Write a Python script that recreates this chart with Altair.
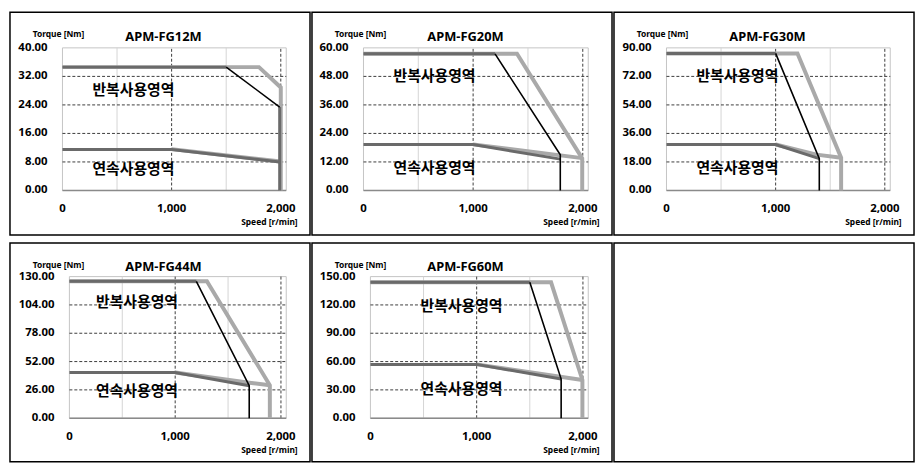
import altair as alt
import pandas as pd

# ---------------- data ----------------
MODELS = ["APM-FG12M", "APM-FG20M", "APM-FG30M", "APM-FG44M", "APM-FG60M"]
Y_MAX = [40, 60, 90, 130, 150]
Y_STEP = [8, 12, 18, 26, 30]
X_MAX = 2050
X_TICKS = [0, 1000, 2000]
X_GRID_SOLID = [500, 1500]
X_GRID_DASHED = [1000, 2000]

# Repetitive-duty envelope, outer (light grey)
REP_LIGHT = {
    "APM-FG12M": [(0, 34.6), (1800, 34.6), (2000, 28.9), (2000, 0)],
    "APM-FG20M": [(0, 57.5), (1400, 57.5), (1995, 13.5), (1995, 0)],
    "APM-FG30M": [(0, 86.5), (1200, 86.5), (1600, 20.7), (1600, 0)],
    "APM-FG44M": [(0, 125.7), (1300, 125.7), (1895, 30.3), (1895, 0)],
    "APM-FG60M": [(0, 144), (1700, 144), (1995, 40.5), (1995, 0)],
}
# Repetitive-duty envelope, inner: flat part (dark grey)
REP_DARK = {
    "APM-FG12M": [(0, 34.6), (1500, 34.6)],
    "APM-FG20M": [(0, 57.5), (1200, 57.5)],
    "APM-FG30M": [(0, 86.5), (1000, 86.5)],
    "APM-FG44M": [(0, 125.7), (1200, 125.7)],
    "APM-FG60M": [(0, 144), (1500, 144)],
}
# Repetitive-duty envelope, inner: falling part (black)
REP_BLACK = {
    "APM-FG12M": [(1500, 34.6), (1990, 23.4)],
    "APM-FG20M": [(1200, 57.5), (1795, 15.0), (1795, 0)],
    "APM-FG30M": [(1000, 86.5), (1400, 20.1), (1400, 0)],
    "APM-FG44M": [(1200, 125.7), (1700, 29.8), (1700, 0)],
    "APM-FG60M": [(1500, 144), (1795, 41.5), (1795, 0)],
}
REP_DROP_DARK = {
    "APM-FG12M": [(1990, 23.4), (1990, 0)],
}
# Continuous-duty envelope (light grey, outer)
CONT_LIGHT = {
    "APM-FG12M": [(1000, 11.6), (2000, 8.1)],
    "APM-FG20M": [(1000, 19.4), (1995, 13.6)],
    "APM-FG30M": [(1000, 29.0), (1375, 22.6), (1600, 20.7)],
    "APM-FG44M": [(1000, 42.0), (1700, 32.6), (1895, 30.3)],
    "APM-FG60M": [(1000, 57.0), (1995, 40.5)],
}
# Continuous-duty envelope (dark grey, inner)
CONT_DARK = {
    "APM-FG12M": [(0, 11.5), (1000, 11.5), (1990, 8.0)],
    "APM-FG20M": [(0, 19.3), (1000, 19.3), (1795, 13.2)],
    "APM-FG30M": [(0, 29.0), (1000, 29.0), (1400, 20.1)],
    "APM-FG44M": [(0, 42.0), (1000, 42.0), (1700, 29.8)],
    "APM-FG60M": [(0, 57.0), (1000, 57.0), (1795, 41.5)],
}

REP_LABEL = "반복사용영역"
CONT_LABEL = "연속사용영역"
ANNOT_X = [650, 648, 650, 639, 857]
ANNOT_REP_Y = [28.2, 48.0, 72.0, 107.0, 119.0]
ANNOT_CONT_Y = [6.0, 9.4, 14.1, 24.5, 31.0]

# ---------------- layout / style ----------------
CELL_W = 303
ROW_H = [225, 221]
PLOT_LEFT = [53, 52, 53, 60, 59]
PLOT_RIGHT = 279
PLOT_TOP = [36, 34]
PLOT_BOTTOM = [180, 177]
LATIN = "Noto Sans"
KOREAN = "Noto Sans CJK KR"
LIGHT = "#a9a9a9"
DARK = "#6a6a6a"
GRID_DARK = "#3c3c3c"


def seg_frame(segments):
    rows = []
    for s, pts in enumerate(segments):
        for i, (x, y) in enumerate(pts):
            rows.append({"seg": s, "i": i, "x": x, "y": y})
    return pd.DataFrame(rows)


def panel(k):
    name = MODELS[k]
    row = 0 if k < 3 else 1
    H = ROW_H[row]
    left = PLOT_LEFT[k]
    top, bottom = PLOT_TOP[row], PLOT_BOTTOM[row]
    ymax, step = Y_MAX[k], Y_STEP[k]

    xs = alt.Scale(domain=[0, X_MAX], range=[left, PLOT_RIGHT], nice=False, zero=False)
    ys = alt.Scale(domain=[0, ymax], range=[bottom, top], nice=False, zero=False)

    def X(f):
        return alt.X(f, scale=xs, axis=None)

    def Y(f):
        return alt.Y(f, scale=ys, axis=None)

    frame_df = pd.DataFrame({"x": [0], "x2": [X_MAX], "y": [0], "y2": [ymax]})
    frame = alt.Chart(frame_df).mark_rect(fillOpacity=0, stroke="#c4c4c4", strokeWidth=1).encode(
        x=X("x:Q"), x2="x2:Q", y=Y("y:Q"), y2="y2:Q")

    vsolid = alt.Chart(pd.DataFrame({"x": X_GRID_SOLID, "y": 0, "y2": ymax})).mark_rule(
        color="#d4d4d4", strokeWidth=1).encode(x=X("x:Q"), y=Y("y:Q"), y2="y2:Q")
    vdash = alt.Chart(pd.DataFrame({"x": X_GRID_DASHED, "y": 0, "y2": ymax})).mark_rule(
        color=GRID_DARK, strokeWidth=1, strokeDash=[3, 2]).encode(x=X("x:Q"), y=Y("y:Q"), y2="y2:Q")
    hvals = list(range(step, ymax, step))
    hdash = alt.Chart(pd.DataFrame({"y": hvals, "x": 0, "x2": X_MAX})).mark_rule(
        color=GRID_DARK, strokeWidth=1, strokeDash=[3, 2]).encode(y=Y("y:Q"), x=X("x:Q"), x2="x2:Q")
    base = alt.Chart(pd.DataFrame({"y": [0], "x": [0], "x2": [X_MAX]})).mark_rule(
        color="#8a8a8a", strokeWidth=1.6).encode(y=Y("y:Q"), x=X("x:Q"), x2="x2:Q")

    # tick labels (as text driven by the scales)
    xlab = alt.Chart(pd.DataFrame({"v": X_TICKS})).mark_text(
        font=LATIN, fontSize=11.5, fontWeight="bold", color="black",
        align="center", baseline="middle").encode(
        x=X("v:Q"), y=alt.value(bottom + 19), text=alt.Text("v:Q", format=","))
    ylab = alt.Chart(pd.DataFrame({"v": list(range(0, ymax + 1, step))})).mark_text(
        font=LATIN, fontSize=11.5, fontWeight="bold", color="black",
        align="right", baseline="middle").encode(
        y=Y("v:Q"), x=alt.value(left - 15), text=alt.Text("v:Q", format=".2f"))

    def line(segments, color, width):
        return alt.Chart(seg_frame(segments)).mark_line(
            color=color, strokeWidth=width, strokeJoin="miter").encode(
            x=X("x:Q"), y=Y("y:Q"), detail="seg:N", order="i:Q")

    light = line([REP_LIGHT[name], CONT_LIGHT[name]], LIGHT, 4)
    dark_segs = [REP_DARK[name], CONT_DARK[name]]
    if name in REP_DROP_DARK:
        dark_segs.append(REP_DROP_DARK[name])
    dark = line(dark_segs, DARK, 3)
    black = line([REP_BLACK[name]], "black", 1.6)

    ann_df = pd.DataFrame({"label": [REP_LABEL, CONT_LABEL],
                           "x": [ANNOT_X[k], ANNOT_X[k]],
                           "y": [ANNOT_REP_Y[k], ANNOT_CONT_Y[k]]})
    ann = alt.Chart(ann_df).mark_text(font=KOREAN, fontSize=15, fontWeight="bold",
                                      color="black", align="center", baseline="middle").encode(
        x=X("x:Q"), y=Y("y:Q"), text="label:N")

    def deco(txt, px, py, size):
        return alt.Chart(pd.DataFrame({"t": [txt]})).mark_text(
            font=LATIN, fontSize=size, fontWeight="bold", color="black",
            align="center", baseline="middle").encode(
            x=alt.value(px), y=alt.value(py), text="t:N")

    title = deco(name, 155, 25 if row == 0 else 24, 13)
    torque = deco("Torque [Nm]", 49, 22, 8.5)
    speed = deco("Speed [r/min]", 262, 212 if row == 0 else 209, 8.5)

    return alt.layer(frame, vsolid, vdash, hdash, base, light, dark, black, ann,
                     xlab, ylab, title, torque, speed).properties(width=CELL_W, height=H)


empty = alt.Chart(pd.DataFrame({"t": [""]})).mark_text().encode(
    text="t:N", x=alt.value(0), y=alt.value(0)).properties(width=CELL_W, height=ROW_H[1])

row1 = alt.hconcat(panel(0), panel(1), panel(2), spacing=0)
row2 = alt.hconcat(panel(3), panel(4), empty, spacing=0)

chart = alt.vconcat(row1, row2, spacing=0).properties(
    padding=1, background="white").configure_view(stroke="black", strokeWidth=1.5)

chart.save("out.html", embed_options={"renderer": "svg", "actions": False})
